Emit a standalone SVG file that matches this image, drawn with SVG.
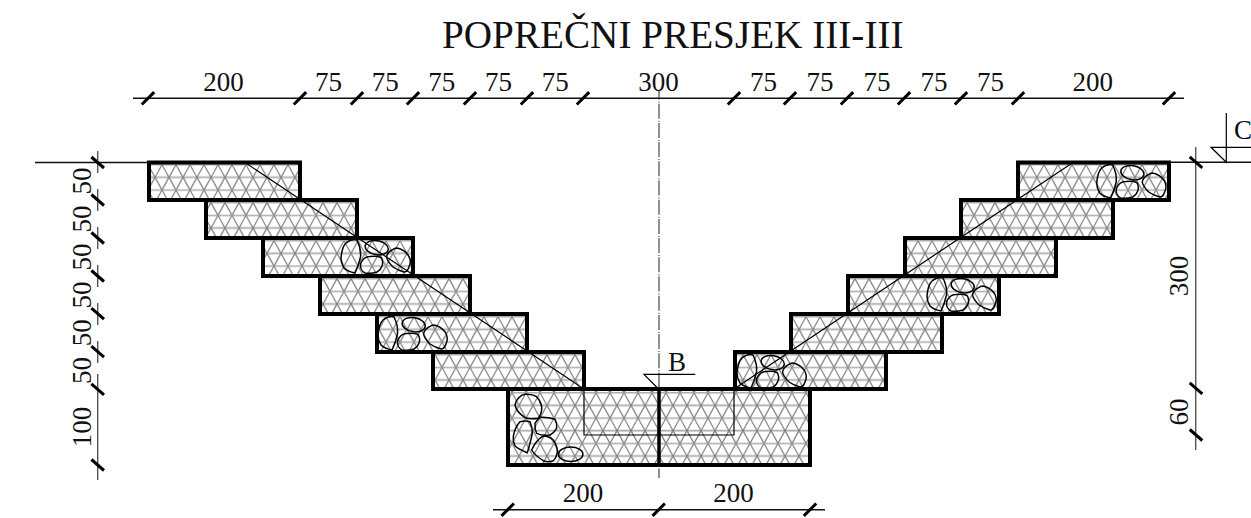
<svg xmlns="http://www.w3.org/2000/svg" width="1251" height="518" viewBox="0 0 1251 518">
<style>
text{font-family:"Liberation Serif","Times New Roman",serif;font-size:27px;fill:#111}
.block{fill:url(#hatch);stroke:#000;stroke-width:4;stroke-linejoin:miter}
.stone{fill:none;stroke:#000;stroke-width:1.5}
.thin{fill:none;stroke:#000;stroke-width:1.2}
.dim{fill:none;stroke:#111;stroke-width:1.4}
.ext{fill:none;stroke:#555;stroke-width:1.4}
.tick{fill:none;stroke:#000;stroke-width:3}
.axis{fill:none;stroke:#555;stroke-width:1.3;stroke-dasharray:15 2 1 1.2;stroke-dashoffset:6.5}
</style>
<defs>
<pattern id="hatch" patternUnits="userSpaceOnUse" x="148" y="164" width="14" height="25.34">
<rect width="14" height="25.34" fill="#fff"/>
<path d="M0 0.7H14M0 13.37H14" fill="none" stroke="#aaa" stroke-width="1.7"/>
<path d="M0 0.7L7 13.37L14 0.7M0 26.04L7 13.37L14 26.04" fill="none" stroke="#858585" stroke-width="1.3"/>
</pattern>
<g id="stones">
<path class="stone" d="M6 5C10 2 14 1 17 2C20 8 21 14 20.5 19C19 26 17 31 15 35C10 34 6 32 4 30C2 27 1 23 1 20C1.5 14 3 8 6 5Z"/>
<ellipse class="stone" cx="36.7" cy="9.7" rx="11.7" ry="7" transform="rotate(10 36.7 9.7)"/>
<path class="stone" d="M22 23C24 20 27 18.5 30 18.5C34 18 38 18 41 19.5C43 22 43 26 42 28C41 31 39 33 37 34C33 35.5 28 35.5 25 35C22 33.5 20.5 30 20.5 28C20.5 26 21 24 22 23Z"/>
<path class="stone" d="M57 10C62 11 66 14 68.5 17.5C70.5 21 70.5 26 69 29C68 32 66 34 64 34C60 33 56 31 53 29C50 26 47 22 46.5 19C47 16 50 13 52 12C54 10.5 56 10 57 10Z"/>
</g>
<path id="tf" class="tick" d="M-6.2 6.2L6.2 -6.2"/>
<path id="tb" class="tick" d="M-6.3 -5.5L6.3 5.5"/>
</defs>
<rect width="1251" height="518" fill="#fff"/>

<g id="title"><text id="title-text" x="442" y="48" style="font-size:39.2px">POPREČNI PRESJEK III-III</text></g>

<g id="block-l1"><rect class="block" x="149" y="162.5" width="151" height="37.5"/></g>
<g id="block-l2"><rect class="block" x="206" y="200" width="151" height="38"/></g>
<g id="block-l3"><rect class="block" x="263" y="238" width="150" height="38"/><use href="#stones" x="340" y="238"/></g>
<g id="block-l4"><rect class="block" x="320" y="276" width="150" height="38"/></g>
<g id="block-l5"><rect class="block" x="377" y="314" width="150" height="38"/><use href="#stones" x="377" y="315"/></g>
<g id="block-l6"><rect class="block" x="433" y="352" width="151" height="37"/></g>
<g id="block-r1"><rect class="block" x="1018" y="162.5" width="151" height="37.5"/><use href="#stones" x="1095.7" y="163"/></g>
<g id="block-r2"><rect class="block" x="961" y="200" width="152" height="38"/></g>
<g id="block-r3"><rect class="block" x="905" y="238" width="151" height="38"/></g>
<g id="block-r4"><rect class="block" x="848" y="276" width="151" height="38"/><use href="#stones" x="926" y="276"/></g>
<g id="block-r5"><rect class="block" x="791" y="314" width="151" height="38"/></g>
<g id="block-r6"><rect class="block" x="735" y="352" width="151" height="37"/><use href="#stones" x="736" y="353"/></g>
<g id="block-base">
<rect class="block" x="508" y="389" width="302" height="76"/>
<path class="stone" d="M515 405C516 400 520 395 525 394.3C529 394 534 395 536.7 396.7C539 399 541 403 541.7 406.7C542 411 540 416 538.3 418.3C534 419 529 419 525 417.7C521 415 516 410 515 405Z"/>
<path class="stone" d="M513.3 436.7C514 431 517 425 520 421.7C523 421 527 421 530 421.7C531.5 425 532.5 429 532.3 433.3C531 440 529 447 527.3 452.7C523 451 518 449 515 446C513.5 443 513 440 513.3 436.7Z"/>
<path class="stone" d="M535 423.3C536.5 421 538 418.5 540 417.3C545 417 551 418 555 419.3C556.5 422 557 425 556.7 428.3C555 431 552 434 550 435C546 435.5 540 435 536.7 433.3C535 430 534.7 426 535 423.3Z"/>
<path class="stone" d="M531.7 450C534 444 539 438 543.3 436C547 436 551 438 553.3 440C556 444 557.5 448 557.3 451.7C557 455 555 459 553.3 460.7C550 462 546 462 543.3 460.7C539 458 534 454 531.7 450Z"/>
<ellipse class="stone" cx="570.7" cy="454.3" rx="12.2" ry="7.2"/>
</g>

<g id="section-line">
<path class="thin" d="M245 162.5L584 389V435H734V389L1073 162.5"/>
</g>
<g id="centre-line">
<line class="axis" x1="659" y1="91" x2="659" y2="478"/>
<line x1="659" y1="389" x2="659" y2="465" stroke="#000" stroke-width="3.5"/>
</g>

<g id="connectors">
<g id="dim-top">
<path class="dim" d="M133 98.3H1184"/>
<use href="#tf" x="148" y="98.3"/><use href="#tf" x="300" y="98.3"/><use href="#tf" x="357" y="98.3"/><use href="#tf" x="413" y="98.3"/><use href="#tf" x="470" y="98.3"/><use href="#tf" x="527" y="98.3"/><use href="#tf" x="583" y="98.3"/>
<use href="#tf" x="734" y="98.3"/><use href="#tf" x="790" y="98.3"/><use href="#tf" x="847" y="98.3"/><use href="#tf" x="904" y="98.3"/><use href="#tf" x="961" y="98.3"/><use href="#tf" x="1018" y="98.3"/><use href="#tf" x="1169" y="98.3"/>
</g>
<g id="dim-bottom">
<path class="dim" d="M493 509.7H825"/>
<use href="#tf" x="507.7" y="509.7"/><use href="#tf" x="658.7" y="509.7"/><use href="#tf" x="810" y="509.7"/>
</g>
<g id="dim-left">
<path class="dim" d="M35 162.5H149"/>
<path class="ext" d="M97.7 151V173M97.7 189V211M97.7 227V249M97.7 265V287M97.7 303V325M97.7 341V363M97.7 374V480"/>
<use href="#tb" x="97.7" y="162.5"/><use href="#tb" x="97.7" y="200"/><use href="#tb" x="97.7" y="238"/><use href="#tb" x="97.7" y="276"/><use href="#tb" x="97.7" y="313.7"/><use href="#tb" x="97.7" y="351.7"/><use href="#tb" x="97.7" y="389.3"/><use href="#tb" x="97.7" y="465"/>
</g>
<g id="dim-right">
<path class="dim" d="M1169 162.3H1251"/>
<path class="ext" d="M1195.7 147V450"/>
<use href="#tb" x="1196" y="162.3"/><use href="#tb" x="1196" y="388.3"/><use href="#tb" x="1196" y="435"/>
</g>
<g id="level-b"><path class="thin" d="M695.3 374.3H644L658.5 389"/></g>
<g id="level-c"><path class="thin" d="M1226.3 113V162.3L1211 147.3H1251"/></g>
</g>

<g id="labels">
<text x="203.3" y="91">200</text><text x="315" y="91">75</text><text x="371.7" y="91">75</text><text x="428.3" y="91">75</text><text x="485" y="91">75</text><text x="541.7" y="91">75</text>
<text x="638.3" y="91">300</text>
<text x="750" y="91">75</text><text x="806.5" y="91">75</text><text x="863.5" y="91">75</text><text x="920.5" y="91">75</text><text x="977" y="91">75</text><text x="1072.5" y="91">200</text>
<text x="562.7" y="502">200</text><text x="713.3" y="502">200</text>
<text x="668" y="371">B</text><text x="1234" y="139">C</text>
<g text-anchor="middle">
<text transform="translate(90.7 181) rotate(-90)">50</text>
<text transform="translate(90.7 219) rotate(-90)">50</text>
<text transform="translate(90.7 257) rotate(-90)">50</text>
<text transform="translate(90.7 295) rotate(-90)">50</text>
<text transform="translate(90.7 332.7) rotate(-90)">50</text>
<text transform="translate(90.7 370.4) rotate(-90)">50</text>
<text transform="translate(90.7 427) rotate(-90)">100</text>
<text transform="translate(1188.3 276) rotate(-90)">300</text>
<text transform="translate(1188.3 412) rotate(-90)">60</text>
</g>
</g>
</svg>
